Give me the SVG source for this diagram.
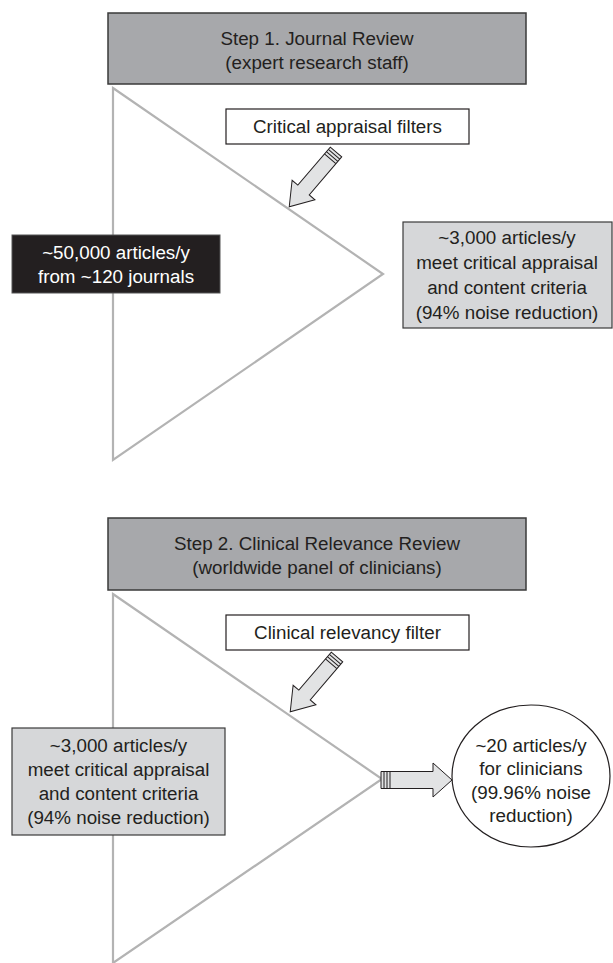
<svg xmlns="http://www.w3.org/2000/svg" width="613" height="963" viewBox="0 0 613 963">
<style>
text{font-family:"Liberation Sans",Arial,sans-serif;font-size:18.8px;fill:#231f20;text-anchor:middle}
.hdr{fill:#a7a8ab;stroke:#3a3a3a;stroke-width:1.5}
.gbox{fill:#d6d7d9;stroke:#3a3a3a;stroke-width:1.2}
.wbox{fill:#fff;stroke:#231f20;stroke-width:1.2}
.tri{fill:none;stroke:#b3b3b3;stroke-width:2.2}
.arr{fill:#e2e3e4;stroke:#231f20;stroke-width:1}
.wt{fill:#fff}
</style>
<defs>
<g id="blk">
<path class="arr" d="M0,-7.5 L50,-7.5 L50,-15 L72,0 L50,15 L50,7.5 L0,7.5 Z"/>
<path d="M3,-7.5 V7.5 M6,-7.5 V7.5 M9,-7.5 V7.5" stroke="#231f20" stroke-width="1" fill="none"/>
</g>
</defs>
<g id="connectors">
<polygon class="tri" points="113,88 383,274 113,460"/>
<polygon class="tri" points="113,594 382,779 113,963"/>
<use href="#blk" transform="translate(336,152) rotate(130.5)"/>
<use href="#blk" transform="translate(337,657) rotate(130.5)"/>
<g transform="translate(381,780)">
<path class="arr" d="M0,-8.5 L52,-8.5 L52,-17 L71,0 L52,17 L52,8.5 L0,8.5 Z"/>
<path d="M3,-8.5 V8.5 M6,-8.5 V8.5 M9,-8.5 V8.5" stroke="#231f20" stroke-width="1" fill="none"/>
</g>
</g>
<g id="step1">
<rect class="hdr" x="108" y="13" width="418" height="71"/>
<text x="317" y="45">Step 1. Journal Review</text>
<text x="317" y="69">(expert research staff)</text>
</g>
<g id="filter1">
<rect class="wbox" x="226" y="109" width="243" height="35"/>
<text x="347.5" y="133">Critical appraisal filters</text>
</g>
<g id="source">
<rect x="12" y="235" width="208" height="58" fill="#231f20" stroke="#555" stroke-width="1"/>
<text class="wt" x="116" y="259">~50,000 articles/y</text>
<text class="wt" x="116" y="283">from ~120 journals</text>
</g>
<g id="result1">
<rect class="gbox" x="403" y="222" width="209" height="106"/>
<text x="507" y="244">~3,000 articles/y</text>
<text x="507" y="269">meet critical appraisal</text>
<text x="507" y="294">and content criteria</text>
<text x="507" y="319">(94% noise reduction)</text>
</g>
<g id="step2">
<rect class="hdr" x="108" y="518" width="418" height="72"/>
<text x="317" y="550">Step 2. Clinical Relevance Review</text>
<text x="317" y="574">(worldwide panel of clinicians)</text>
</g>
<g id="filter2">
<rect class="wbox" x="226" y="615" width="243" height="35"/>
<text x="347.5" y="639">Clinical relevancy filter</text>
</g>
<g id="input2">
<rect class="gbox" x="12" y="728" width="213" height="107"/>
<text x="118.5" y="752">~3,000 articles/y</text>
<text x="118.5" y="776">meet critical appraisal</text>
<text x="118.5" y="800">and content criteria</text>
<text x="118.5" y="824">(94% noise reduction)</text>
</g>
<g id="result2">
<ellipse cx="531" cy="776" rx="79" ry="71" fill="#fff" stroke="#231f20" stroke-width="1.2"/>
<text x="531" y="752">~20 articles/y</text>
<text x="531" y="775">for clinicians</text>
<text x="531" y="799">(99.96% noise</text>
<text x="531" y="822">reduction)</text>
</g>
</svg>
